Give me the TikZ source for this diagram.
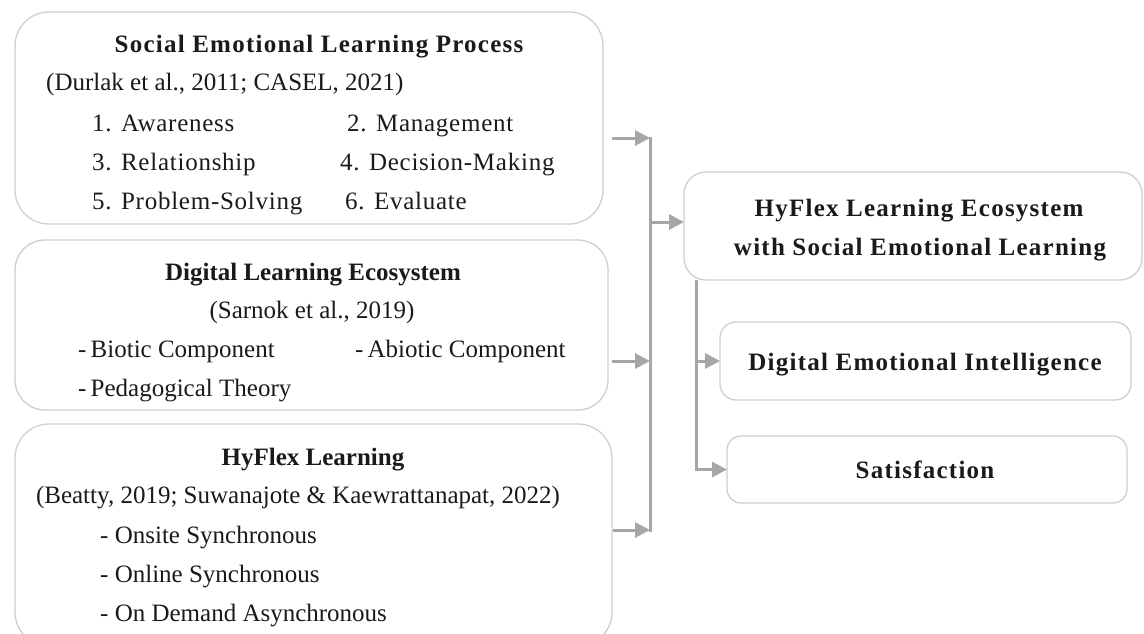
\documentclass[tikz,border=0pt]{standalone}
\usepackage{fontspec}
\setmainfont{Liberation Serif}
\newfontfamily\spaced[LetterSpace=5]{Liberation Serif}
\newfontfamily\spacedlist[LetterSpace=3]{Liberation Serif}
\usetikzlibrary{arrows.meta,calc}
\definecolor{framegray}{HTML}{CFCFCF}
\definecolor{linkgray}{HTML}{A6A6A6}
\definecolor{ink}{HTML}{1A1A1A}
\begin{document}
\begin{tikzpicture}[x=1pt,y=-1pt,
  panel/.style={draw=framegray,line width=1.3pt,fill=white,rounded corners=#1,
    inner sep=0pt,outer sep=0pt,anchor=north west},
  txt/.style={text=ink,inner sep=0pt,font=\fontsize{25}{30}\selectfont},
  lft/.style={txt,anchor=base west},
  ctr/.style={txt,anchor=base},
  link/.style={draw=linkgray,line width=3pt},
  arr/.style={link,-{Triangle[length=15pt,width=15pt]}}]
\clip (0,0) rectangle (1144,633);
\fill[white] (0,0) rectangle (1144,633);

% left column panels
\node[panel=34pt,minimum width=588pt,minimum height=212pt] (sel) at (15,12) {};
\node[panel=30pt,minimum width=593pt,minimum height=170pt] (dle) at (15,240) {};
\node[panel=34pt,minimum width=597pt,minimum height=222pt] (hfl) at (15,424) {};

% right column panels
\node[panel=22pt,minimum width=458pt,minimum height=108pt] (eco) at (684,172) {};
\node[panel=16pt,minimum width=411pt,minimum height=78pt] (dei) at (720,322) {};
\node[panel=14pt,minimum width=400pt,minimum height=67pt] (sat) at (727,436) {};

% Social Emotional Learning Process
\node[ctr] (selT) at (319,52) {\spaced\bfseries Social Emotional Learning Process};
\node[lft] (selC) at (46,90) {(Durlak et al., 2011; CASEL, 2021)};
\node[lft] (sel1) at (92,131) {\spacedlist 1. Awareness};
\node[lft] (sel2) at (347,131) {\spacedlist 2. Management};
\node[lft] (sel3) at (92,170) {\spacedlist 3. Relationship};
\node[lft] (sel4) at (340,170) {\spacedlist 4. Decision-Making};
\node[lft] (sel5) at (92,209) {\spacedlist 5. Problem-Solving};
\node[lft] (sel6) at (345,209) {\spacedlist 6. Evaluate};

% Digital Learning Ecosystem
\node[ctr] (dleT) at (313,280) {\bfseries Digital Learning Ecosystem};
\node[ctr] (dleC) at (312,318) {(Sarnok et al., 2019)};
\node[lft] (dle1) at (78,357) {-\,Biotic Component};
\node[lft] (dle2) at (355,357) {-\,Abiotic Component};
\node[lft] (dle3) at (78,396) {-\,Pedagogical Theory};

% HyFlex Learning
\node[ctr] (hflT) at (313,465) {\bfseries HyFlex Learning};
\node[ctr] (hflC) at (298,503) {(Beatty, 2019; Suwanajote \& Kaewrattanapat, 2022)};
\node[lft] (hfl1) at (100,543) {- Onsite Synchronous};
\node[lft] (hfl2) at (100,582) {- Online Synchronous};
\node[lft] (hfl3) at (100,621) {- On Demand Asynchronous};

% outcome panels
\node[ctr] (ecoT1) at (919,216) {\spaced\bfseries HyFlex Learning Ecosystem};
\node[ctr] (ecoT2) at (920,255) {\spaced\bfseries with Social Emotional Learning};
\node[ctr] (deiT) at (925,370) {\spaced\bfseries Digital Emotional Intelligence};
\node[ctr] (satT) at (925,478) {\spaced\bfseries Satisfaction};

% collecting bus into the ecosystem panel
\coordinate (busTop) at (650,138);
\coordinate (busMid) at (650,361);
\coordinate (busBot) at (650,530);
\coordinate (busOut) at (650,222);
\draw[link] ($(busTop)+(0,-1.5)$) -- ($(busBot)+(0,1.5)$);
\draw[arr] ($(sel.east |- busTop)+(9,0)$) -- (busTop);
\draw[arr] ($(dle.east |- busMid)+(4,0)$) -- (busMid);
\draw[arr] ($(hfl.east |- busBot)+(1,0)$) -- (busBot);
\draw[arr] (busOut) -- (eco.west |- busOut);

% distribution bus to the outcomes
\coordinate (outTop) at ($(eco.south west)+(12,0)$);
\coordinate (outBot) at (outTop |- sat.west);
\draw[link] (outTop) -- ($(outBot)+(0,1.5)$);
\draw[arr] (outTop |- dei.west) -- (dei.west);
\draw[arr] (outBot) -- (sat.west);
\end{tikzpicture}
\end{document}
